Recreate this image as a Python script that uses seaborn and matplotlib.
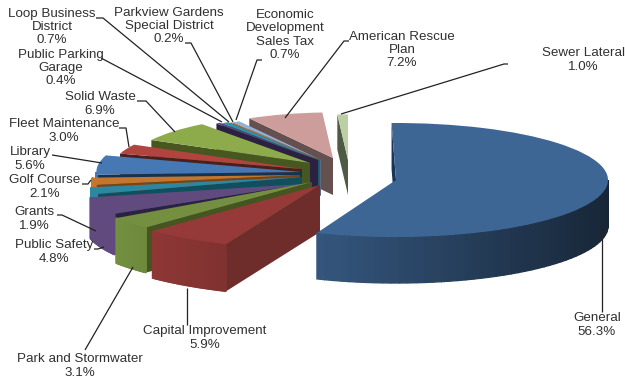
import matplotlib
matplotlib.use("Agg")
import matplotlib.pyplot as plt
import numpy as np
import seaborn as sns

# Budget shares by fund, clockwise from twelve o'clock
funds = ["General", "Capital Improvement", "Park and Stormwater", "Public Safety",
         "Grants", "Golf Course", "Library", "Fleet Maintenance", "Solid Waste",
         "Public Parking Garage", "Loop Business District",
         "Parkview Gardens Special District", "Economic Development Sales Tax",
         "American Rescue Plan", "Sewer Lateral"]
shares = [56.3, 5.9, 3.1, 4.8, 1.9, 2.1, 5.6, 3.0, 6.9, 0.4, 0.7, 0.2, 0.7, 7.2, 1.0]

# Appearance of each slice
top_hex = ["#3E6694", "#953A38", "#738F3F", "#614A7E", "#2E87A0", "#C4752E", "#4678B4",
           "#B2443F", "#8EAB4C", "#5B4481", "#2E93AE", "#D77F2C", "#95AFD6", "#CD9D9B", "#BBCFA6"]
cut_hex = ["#1A3555", "#6E2C2A", "#44551F", "#2D2142", "#0F4F5F", "#7A4516", "#17324F",
           "#4A1F1E", "#46581F", "#2D2142", "#1A5A6B", "#7A4516", "#5A6A84", "#64504F", "#4F5A45"]

# Slice layout in canvas pixels: tip position, size relative to the base ellipse,
# wall height, and a small turn in degrees that stands in for the camera perspective
tip_x = [396, 320, 312, 303, 302, 300, 302, 302, 310, 318, 319, 320, 321, 333, 348]
tip_y = [180, 185, 182, 184, 177, 175, 172, 169, 163, 160, 160, 160, 160, 158, 160]
size = [1.0, 1.13, 1.12, 1.03, 1.01, 0.98, 0.97, 0.9, 0.85, 0.8, 0.79, 0.78, 0.78, 0.8, 0.8]
depth = [46, 47, 45, 41, 40, 38, 36, 35, 34, 36, 36, 36, 36, 37, 35]
turn = [1.2, 0, 0, -4, 0, 0, 0, 0, 0, 0, 0, 0, 0, 0, 0]
# Painting order, back to front
paint_rank = [14, 13, 12, 11, 10, 9, 8, 7, 6, 5, 4, 3, 2, 1, 0]

RX, RY = 212.0, 57.0
W, H = 625, 383

# Label blocks: text lines' centre and the leader polyline, in canvas pixels
labels = [
    ("General\n56.3%", 597, 325, [(602, 227), (602, 312)]),
    ("Capital Improvement\n5.9%", 205, 338, [(187, 288), (187, 325)]),
    ("Park and Stormwater\n3.1%", 80, 366, [(133, 267), (85, 350)]),
    ("Public Safety\n4.8%", 54, 252, [(104, 247), (98, 249), (94, 249)]),
    ("Grants\n1.9%", 34, 219, [(96, 231), (62, 215), (57, 215)]),
    ("Golf Course\n2.1%", 45, 187, [(91, 180), (88, 184), (82, 184)]),
    ("Library\n5.6%", 30, 159, [(102, 163), (52, 155)]),
    ("Fleet Maintenance\n3.0%", 64, 131, [(129, 147), (126, 128), (119, 128)]),
    ("Solid Waste\n6.9%", 100, 104, [(175, 132), (146, 101), (137, 101)]),
    ("Public Parking\nGarage\n0.4%", 61, 68, [(222, 122), (101, 58)]),
    ("Loop Business\nDistrict\n0.7%", 52, 27, [(229, 122), (103, 18), (96, 18)]),
    ("Parkview Gardens\nSpecial District\n0.2%", 169, 26, [(233, 122), (191, 43), (185, 43)]),
    ("Economic\nDevelopment\nSales Tax\n0.7%", 285, 35, [(236, 120), (257, 60), (262, 60)]),
    ("American Rescue\nPlan\n7.2%", 402, 50, [(285, 118), (344, 41), (349, 41)]),
    ("Sewer Lateral\n1.0%", 583, 60, [(341, 114), (504, 64), (508, 64)]),
]


def to_data(px, py):
    return px / RX, -py / RY


sns.set_theme(style="white")
plt.rcParams["font.family"] = ["Liberation Sans", "DejaVu Sans"]

fig, ax = plt.subplots(figsize=(W / 100, H / 100), dpi=100)
ax.set_position([0, 0, 1, 1])

palette = sns.color_palette(top_hex)
cut_palette = sns.color_palette(cut_hex)
wedges, _ = ax.pie(shares, colors=palette, startangle=90, counterclock=False,
                   wedgeprops={"linewidth": 0})
ax.set_aspect("auto")
ax.set_xlim(0, W / RX)
ax.set_ylim(-H / RY, 0)

for wedge, base, cut, tx, ty, s, d, t, rank in zip(wedges, palette, cut_palette, tip_x, tip_y,
                                                   size, depth, turn, paint_rank):
    cx, cy = to_data(tx, ty)
    wedge.set_center((cx, cy))
    wedge.set_radius(s)
    wedge.set_theta1(wedge.theta1 + t)
    wedge.set_theta2(wedge.theta2 + t)
    wedge.set_zorder(rank * 10 + 3)
    drop = d / RY

    thetas = np.radians(np.linspace(wedge.theta1, wedge.theta2, 90))
    rim_x = cx + s * np.cos(thetas)
    rim_y = cy + s * np.sin(thetas)

    # Cut face along the slice's leading edge; the trailing edge faces away
    ax.fill([cx, rim_x[-1], rim_x[-1], cx], [cy, rim_y[-1], rim_y[-1] - drop, cy - drop],
            color=cut, lw=0, zorder=rank * 10 + 1)

    # Outer curved face, only where it turns towards the viewer, lit from the left
    for i in range(len(thetas) - 1):
        mid = 0.5 * (thetas[i] + thetas[i + 1])
        if np.sin(mid) >= 0:
            continue
        shade = np.clip(0.72 - 0.34 * np.cos(mid), 0.3, 1.0)
        ax.fill([rim_x[i], rim_x[i + 1], rim_x[i + 1], rim_x[i]],
                [rim_y[i], rim_y[i + 1], rim_y[i + 1] - drop, rim_y[i] - drop],
                color=tuple(c * shade for c in base), lw=1.0, zorder=rank * 10 + 2)

for text, lx, ly, path in labels:
    xs, ys = zip(*[to_data(*p) for p in path])
    ax.plot(xs, ys, color="#222222", lw=0.9, zorder=300, solid_capstyle="butt")
    ax.text(*to_data(lx, ly), text, ha="center", va="center", fontsize=9.6,
            color="#303030", linespacing=1.15, zorder=310)

fig.savefig("out.png", dpi=100, facecolor="white")
